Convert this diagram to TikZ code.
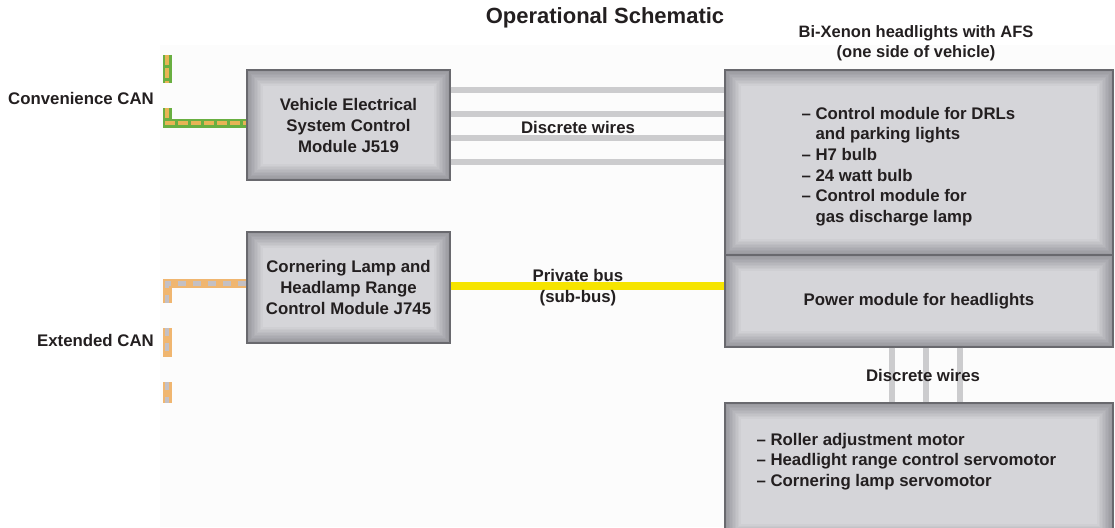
\documentclass[tikz,border=0pt]{standalone}
\usepackage{fontspec}
\setmainfont{Liberation Sans}
\usetikzlibrary{backgrounds}

\definecolor{txtdark}{RGB}{35,31,32}
\definecolor{boxlight}{RGB}{213,213,217}
\definecolor{boxdark}{RGB}{148,148,154}
\definecolor{boxline}{RGB}{105,105,110}
\definecolor{wiregray}{RGB}{204,204,206}
\definecolor{busyellow}{RGB}{246,228,0}
\definecolor{cangreen}{RGB}{105,175,65}
\definecolor{canorange}{RGB}{232,180,85}
\definecolor{extorange}{RGB}{240,182,112}
\definecolor{extgray}{RGB}{196,192,196}
\definecolor{panel}{RGB}{252,252,252}

\begin{document}
\begin{tikzpicture}[
x=1pt,y=-1pt,
every node/.style={text=txtdark,font=\fontsize{16.8}{21}\selectfont\bfseries},
modbox/.style={draw=boxline,line width=1.4pt,align=center,inner sep=0pt},
lbl/.style={align=center,inner sep=0pt},
listtext/.style={align=left,inner sep=0pt,font=\fontsize{16.8}{20.6}\selectfont\bfseries},
wire/.style={draw=wiregray,line width=6.5pt},
subbus/.style={draw=busyellow,line width=8pt},
convcan/.style={draw=cangreen,line width=9pt,postaction={draw=canorange,line width=4.5pt,dash pattern=on 10pt off 3pt}},
extcan/.style={draw=extorange,line width=9pt,postaction={draw=extgray,line width=4.5pt,dash pattern=on 8pt off 7pt}} ]

\useasboundingbox (0,0) rectangle (1115,527);

\node[font=\fontsize{22}{26}\selectfont\bfseries](title) at (605,18) {Operational Schematic};

\node[lbl,font=\fontsize{16.5}{20}\selectfont\bfseries](afstitle) at (916,43) {Bi-Xenon headlights with AFS\\(one side of vehicle)};

\node[anchor=east,inner sep=0pt](convlbl) at (154,98) {Convenience CAN};

\node[anchor=east,inner sep=0pt](extlbl) at (154,340) {Extended CAN};

\node[modbox,minimum width=203pt,minimum height=110pt](j519) at (348.5,125) {Vehicle Electrical\\System Control\\Module J519};

\node[modbox,minimum width=203pt,minimum height=111pt](j745) at (348.5,287.5) {Cornering Lamp and\\Headlamp Range\\Control Module J745};

\node[modbox,minimum width=388pt,minimum height=185pt](afs) at (919,162.5) {};

\node[modbox,minimum width=388pt,minimum height=92pt](pwr) at (919,301) {Power module for headlights};

\node[modbox,minimum width=388pt,minimum height=137pt](motors) at (919,471.5) {};

\node[listtext,anchor=west](afslist) at ([xshift=77pt,yshift=-4pt]afs.west) {-- Control module for DRLs\\\hphantom{-- }and parking lights\\-- H7 bulb\\-- 24 watt bulb\\-- Control module for\\\hphantom{-- }gas discharge lamp};

\node[listtext,anchor=west](motorlist) at ([xshift=32pt,yshift=-59pt]motors.north west) {-- Roller adjustment motor\\-- Headlight range control servomotor\\-- Cornering lamp servomotor};

\coordinate (convtop) at (167,55);
\coordinate (convmid) at (167,83);
\coordinate (convbend) at (167,108);
\coordinate (extbend) at (167,303);
\coordinate (extstubA) at (167,328);
\coordinate (extstubB) at (167,357);
\coordinate (extstubC) at (167,382);
\coordinate (extstubD) at (167,403);

\draw[convcan] (convtop) -- (convmid);

\draw[convcan] (convbend) |- ([yshift=2pt]j519.west);

\draw[extcan] (extbend) |- ([yshift=4pt]j745.west);

\draw[extcan] (extstubA) -- (extstubB);

\draw[extcan] (extstubC) -- (extstubD);

\foreach \dy in {35,11,-13,-37}
  \draw[wire] ([yshift=\dy pt]j519.east) -- ([yshift=\dy pt]j519.east -| afs.west);

\node[lbl](wireslbl) at (578,127) {Discrete wires};

\draw[subbus] ([yshift=2pt]j745.east) -- ([yshift=2pt]j745.east -| pwr.west);

\node[lbl](buslbl) at (578,288) {Private bus\\(sub-bus)};

\foreach \dx in {-27,7,41}
  \draw[wire] ([xshift=\dx pt]pwr.south) -- ([xshift=\dx pt]pwr.south |- motors.north);

\node[lbl](motorwireslbl) at (923,375) {Discrete wires};

\begin{scope}[on background layer]
\fill[panel] (160,45) rectangle (1115,527);
\foreach \b in {j519,j745,afs,pwr,motors}
  \foreach \k in {0,...,11}{
    \pgfmathtruncatemacro\pct{100*\k/11}
    \pgfmathsetmacro\ins{1.5*\k}
    \fill[boxlight!\pct!boxdark] ([xshift=\ins pt,yshift=\ins pt]\b.south west) rectangle ([xshift=-\ins pt,yshift=-\ins pt]\b.north east);
  }
\end{scope}
\end{tikzpicture}
\end{document}
